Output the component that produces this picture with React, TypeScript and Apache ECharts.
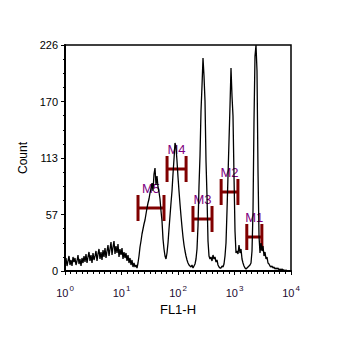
import React, { useEffect, useRef } from "react";
import * as echarts from "echarts";

// Histogram counts per bin; bins are evenly spaced across the 4-decade log axis (10^0 .. 10^4)
const DECADES = 4;
const COUNTS: number[] = [
  8, 13, 5, 10, 15, 6, 11, 5, 14, 9,
  13, 6, 10, 16, 7, 12, 5, 13, 8, 15,
  9, 17, 8, 14, 19, 10, 16, 8, 18, 11,
  15, 20, 10, 17, 22, 12, 19, 11, 21, 14,
  23, 13, 20, 26, 15, 22, 29, 16, 24, 30,
  17, 25, 18, 27, 14, 22, 16, 23, 12, 19,
  13, 18, 10, 16, 8, 13, 6, 11, 4, 8,
  4, 6, 3, 8, 15, 24, 30, 37, 42, 47,
  51, 57, 63, 68, 72, 78, 82, 88, 80, 97,
  103, 86, 95, 84, 79, 72, 60, 50, 32, 22,
  15, 12, 18, 28, 42, 55, 68, 80, 97, 112,
  128, 124, 110, 94, 80, 67, 55, 44, 34, 26,
  20, 15, 11, 8, 6, 5, 4, 6, 3, 5,
  7, 12, 22, 45, 85, 115, 160, 185, 213, 195,
  170, 110, 75, 30, 15, 12, 14, 10, 16, 12,
  14, 9, 11, 6, 4, 3, 3, 5, 4, 7,
  15, 28, 60, 95, 130, 165, 203, 175, 155, 95,
  40, 18, 20, 17, 26, 18, 22, 12, 8, 5,
  3, 2, 3, 4, 5, 6, 8, 20, 60, 150,
  215, 226, 200, 100, 35, 18, 28, 20, 25, 15,
  19, 12, 14, 8, 7, 5, 4, 5, 3, 4,
  2, 3, 2, 3, 1, 2, 1, 2, 1, 1,
  0, 1, 0, 0, 0, 0,
];

// Y axis ticks
const Y_MAX = 226;
const Y_TICK_STEP = 56.5;

// Markers (FL1-H linear values) and their count level
const MARKER_NAMES = ["M1", "M2", "M3", "M4", "M5"];
const MARKER_LO = [1650, 580, 184, 64, 19.6];
const MARKER_HI = [3050, 1150, 400, 139, 56.5];
const MARKER_LEVEL = [34, 79, 52, 102, 63];
const MARKER_CAP = 13;

const FONT = "'Liberation Sans', Arial, sans-serif";

export default function App() {
  const ref = useRef<HTMLDivElement>(null);
  useEffect(() => {
    if (!ref.current) return;
    const chart = echarts.init(ref.current, null, { renderer: "svg" });
    const nBins = COUNTS.length;
    const lineData = COUNTS.map((c, i) => [(i * DECADES) / nBins, c]);
    const markerData = MARKER_NAMES.map((_, k) => [
      Math.log10(MARKER_LO[k]),
      Math.log10(MARKER_HI[k]),
      MARKER_LEVEL[k],
      k,
    ]);
    chart.setOption({
      animation: false,
      backgroundColor: "#fff",
      grid: {
        left: 65,
        top: 45,
        right: 62,
        bottom: 75,
        show: true,
        borderColor: "#000",
        borderWidth: 1.5,
      },
      xAxis: {
        type: "value",
        min: 0,
        max: DECADES,
        interval: 1,
        name: "FL1-H",
        nameLocation: "middle",
        nameGap: 31,
        nameTextStyle: { fontFamily: FONT, fontSize: 13, color: "#000" },
        axisLine: { lineStyle: { color: "#000", width: 2 } },
        axisTick: { length: 4, lineStyle: { color: "#000", width: 1 } },
        minorTick: { show: true, splitNumber: 10, length: 3, lineStyle: { color: "#000", width: 1 } },
        splitLine: { show: false },
        axisLabel: {
          margin: 13,
          formatter: (v: number) => `{b|10}{s|${Math.round(v)}}`,
          rich: {
            b: { fontFamily: FONT, fontSize: 11, color: "#1e0a30" },
            s: { fontFamily: FONT, fontSize: 8, color: "#1e0a30", padding: [0, 0, 9, 1] },
          },
        },
      },
      yAxis: {
        type: "value",
        min: 0,
        max: Y_MAX,
        interval: Y_TICK_STEP,
        name: "Count",
        nameLocation: "middle",
        nameGap: 27,
        nameTextStyle: { fontFamily: FONT, fontSize: 12, color: "#000" },
        axisLine: { show: true, lineStyle: { color: "#000", width: 2 } },
        axisTick: { show: true, length: 4, lineStyle: { color: "#000", width: 1 } },
        minorTick: { show: true, splitNumber: 4, length: 2, lineStyle: { color: "#000", width: 1 } },
        splitLine: { show: false },
        axisLabel: {
          margin: 7,
          fontFamily: FONT,
          fontSize: 11,
          color: "#000",
          formatter: (v: number) => String(Math.round(v)),
        },
      },
      series: [
        {
          type: "custom",
          z: 1,
          encode: { x: [0, 1], y: 2 },
          data: markerData,
          renderItem: (_params: any, api: any) => {
            const x0 = api.value(0);
            const x1 = api.value(1);
            const y = api.value(2);
            const k = api.value(3);
            const pL = api.coord([x0, y]);
            const pR = api.coord([x1, y]);
            const top = api.coord([x0, y + MARKER_CAP])[1];
            const bot = api.coord([x0, y - MARKER_CAP])[1];
            const st = { stroke: "#800000", lineWidth: 3 };
            return {
              type: "group",
              children: [
                { type: "line", shape: { x1: pL[0], y1: pL[1], x2: pR[0], y2: pR[1] }, style: st },
                { type: "line", shape: { x1: pL[0], y1: top, x2: pL[0], y2: bot }, style: st },
                { type: "line", shape: { x1: pR[0], y1: top, x2: pR[0], y2: bot }, style: st },
                {
                  type: "text",
                  x: (pL[0] + pR[0]) / 2,
                  y: top,
                  style: {
                    text: MARKER_NAMES[k],
                    fill: "#800080",
                    font: `13px ${FONT}`,
                    align: "center",
                    verticalAlign: "bottom",
                  },
                },
              ],
            };
          },
        },
        {
          type: "line",
          z: 3,
          data: lineData,
          showSymbol: false,
          symbol: "none",
          lineStyle: { color: "#000", width: 1.3 },
          clip: true,
        },
      ],
    });
    return () => chart.dispose();
  }, []);
  return (
    <div
      ref={ref}
      style={{ position: "fixed", left: 0, top: 0, width: 353, height: 346 }}
    />
  );
}
